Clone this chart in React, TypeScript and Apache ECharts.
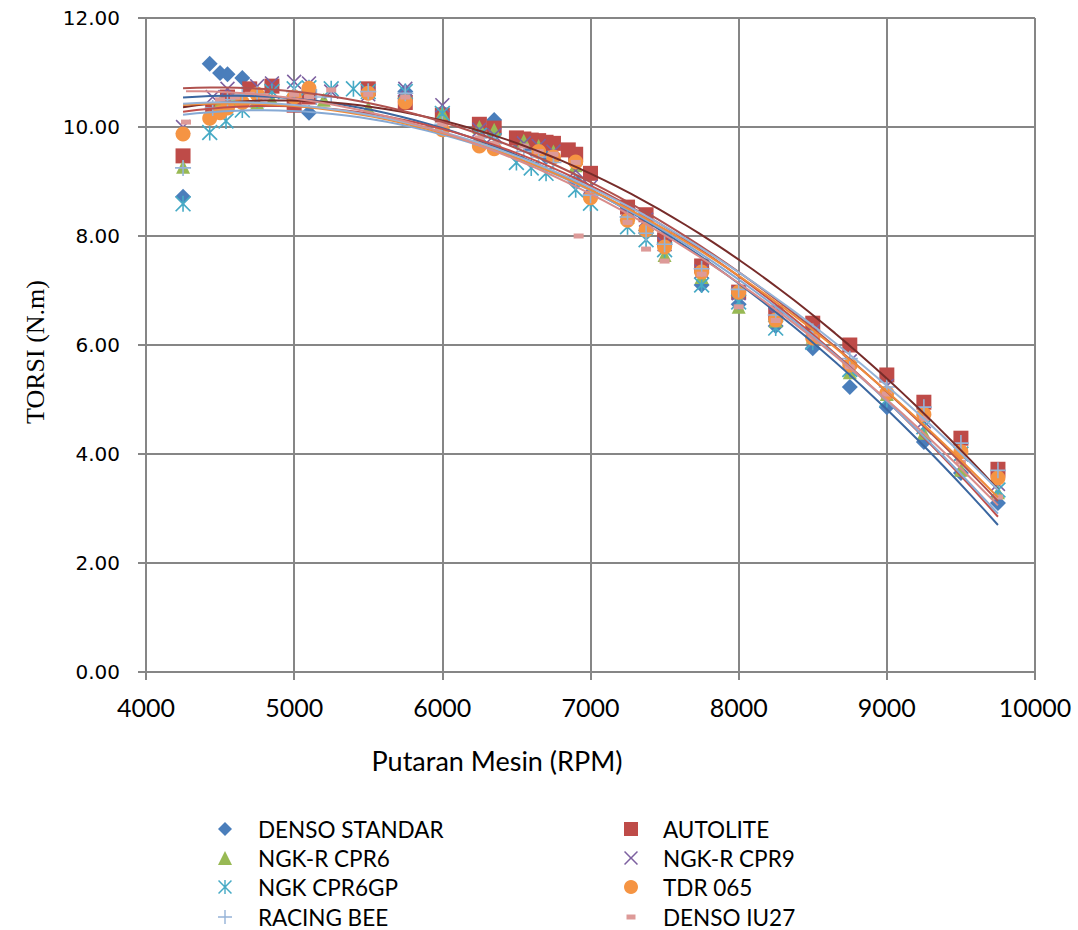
import React, { useEffect, useRef } from "react";
import * as echarts from "echarts";

// ---- data (RPM, torque N.m) ----
const X_TICKS = [4000, 5000, 6000, 7000, 8000, 9000, 10000];
const Y_TICKS = [0, 2, 4, 6, 8, 10, 12];

const NAMES = ["DENSO STANDAR", "AUTOLITE", "NGK-R CPR6", "NGK-R CPR9", "NGK CPR6GP", "TDR 065", "RACING BEE", "DENSO IU27"];

const RPM_DENSO_STD = [4250, 4430, 4500, 4550, 4650, 5100, 5750, 6350, 6500, 6600, 6700, 6900, 7000, 7250, 7375, 7500, 7750, 8000, 8250, 8500, 8750, 9000, 9250, 9500, 9750];
const TQ_DENSO_STD = [8.72, 11.16, 10.99, 10.97, 10.9, 10.26, 10.65, 10.13, 9.75, 9.6, 9.45, 9.0, 8.75, 8.35, 8.1, 7.85, 7.1, 6.75, 6.35, 5.94, 5.23, 4.86, 4.22, 3.65, 3.1];

const RPM_AUTOLITE = [4250, 4450, 4550, 4700, 4850, 5000, 5100, 5500, 5750, 6000, 6250, 6350, 6500, 6550, 6600, 6650, 6700, 6750, 6850, 6900, 7000, 7250, 7375, 7500, 7750, 8000, 8250, 8500, 8750, 9000, 9250, 9500, 9750];
const TQ_AUTOLITE = [9.47, 10.3, 10.55, 10.7, 10.75, 10.4, 10.55, 10.7, 10.45, 10.22, 10.05, 9.98, 9.8, 9.78, 9.76, 9.75, 9.72, 9.7, 9.58, 9.5, 9.15, 8.53, 8.39, 7.93, 7.45, 6.97, 6.59, 6.4, 6.0, 5.45, 4.95, 4.29, 3.72];

const RPM_CPR6 = [4250, 4500, 4600, 4750, 4850, 5000, 5200, 5500, 6000, 6250, 6350, 6550, 6650, 6750, 6900, 7000, 7250, 7375, 7500, 7750, 8000, 8250, 8500, 8750, 9000, 9250, 9500, 9750];
const TQ_CPR6 = [9.27, 10.45, 10.5, 10.45, 10.5, 10.6, 10.5, 10.35, 10.26, 10.0, 9.95, 9.75, 9.65, 9.55, 9.3, 8.8, 8.35, 8.15, 7.65, 7.25, 6.7, 6.45, 6.15, 5.5, 5.1, 4.39, 3.71, 3.3];

const RPM_CPR9 = [4250, 4450, 4550, 4750, 4850, 5000, 5100, 5250, 5500, 5750, 6000, 6250, 6350, 6550, 6650, 6750, 6900, 7000, 7250, 7375, 7500, 7750, 8000, 8250, 8500, 8750, 9000, 9250, 9500, 9750];
const TQ_CPR9 = [10.0, 10.55, 10.7, 10.75, 10.8, 10.83, 10.8, 10.65, 10.6, 10.7, 10.4, 9.95, 9.85, 9.7, 9.65, 9.55, 9.2, 8.9, 8.4, 8.3, 7.85, 7.35, 6.95, 6.55, 6.25, 5.7, 5.25, 4.6, 4.0, 3.45];

const RPM_CPR6GP = [4250, 4430, 4540, 4650, 4750, 4850, 5000, 5100, 5250, 5400, 5500, 5750, 6000, 6250, 6350, 6500, 6600, 6700, 6900, 7000, 7250, 7375, 7500, 7750, 8000, 8250, 8500, 8750, 9000, 9250, 9500, 9750];
const TQ_CPR6GP = [8.59, 9.9, 10.11, 10.31, 10.5, 10.65, 10.7, 10.72, 10.7, 10.7, 10.65, 10.65, 10.25, 9.85, 9.75, 9.35, 9.25, 9.15, 8.85, 8.6, 8.17, 7.93, 7.75, 7.1, 6.79, 6.31, 6.05, 5.55, 5.0, 4.5, 4.0, 3.34];

const RPM_TDR = [4250, 4430, 4500, 4550, 4650, 4750, 5000, 5100, 5500, 5750, 6000, 6250, 6350, 6650, 6750, 6900, 7000, 7250, 7375, 7500, 7750, 8000, 8250, 8500, 8750, 9000, 9250, 9500, 9750];
const TQ_TDR = [9.87, 10.16, 10.26, 10.35, 10.45, 10.6, 10.55, 10.71, 10.62, 10.46, 9.95, 9.65, 9.6, 9.55, 9.45, 9.36, 8.7, 8.29, 8.11, 7.8, 7.34, 6.97, 6.46, 6.13, 5.63, 5.12, 4.73, 4.04, 3.56];

const RPM_RACING = [4250, 4450, 4550, 4650, 4750, 5000, 5150, 5250, 5500, 5750, 6000, 6250, 6350, 6550, 6650, 6750, 6900, 7000, 7250, 7375, 7500, 7750, 8000, 8250, 8500, 8750, 9000, 9250, 9500, 9750];
const TQ_RACING = [9.25, 10.35, 10.5, 10.6, 10.6, 10.65, 10.55, 10.55, 10.65, 10.62, 10.05, 9.8, 9.7, 9.55, 9.45, 9.35, 9.0, 8.75, 8.35, 8.05, 7.85, 7.4, 7.02, 6.55, 6.25, 5.75, 5.23, 4.86, 4.2, 3.7];

const RPM_IU27 = [4270, 4500, 4600, 4700, 4800, 5000, 5100, 5250, 5500, 5750, 6000, 6250, 6350, 6550, 6650, 6750, 6900, 6920, 7250, 7375, 7500, 7750, 8000, 8250, 8500, 8750, 9000, 9250, 9500, 9750];
const TQ_IU27 = [10.09, 10.5, 10.55, 10.6, 10.55, 10.6, 10.55, 10.68, 10.6, 10.55, 10.05, 9.8, 9.7, 9.65, 9.55, 9.5, 9.35, 8.0, 8.25, 7.76, 7.54, 7.3, 6.7, 6.45, 6.15, 5.6, 5.1, 4.65, 3.85, 3.21];

const RPMS = [RPM_DENSO_STD, RPM_AUTOLITE, RPM_CPR6, RPM_CPR9, RPM_CPR6GP, RPM_TDR, RPM_RACING, RPM_IU27];
const TQS = [TQ_DENSO_STD, TQ_AUTOLITE, TQ_CPR6, TQ_CPR9, TQ_CPR6GP, TQ_TDR, TQ_RACING, TQ_IU27];

// ---- styles ----
const PATH_X = "path://M0,1.5L1.5,0L10,8.5L18.5,0L20,1.5L11.5,10L20,18.5L18.5,20L10,11.5L1.5,20L0,18.5L8.5,10Z";
const PATH_AST = "path://M0,1.5L1.5,0L10,8.5L18.5,0L20,1.5L11.5,10L20,18.5L18.5,20L10,11.5L1.5,20L0,18.5L8.5,10Z M9,0L11,0L11,20L9,20Z";
const PATH_PLUS = "path://M9,0L11,0L11,9L20,9L20,11L11,11L11,20L9,20L9,11L0,11L0,9L9,9Z";

const MARKER_COLORS = ["#4A7EBB", "#BE4B48", "#98B954", "#7D60A0", "#46AAC5", "#F59443", "#95B3D7", "#DD9A98"];
const SYMBOLS = ["diamond", "rect", "triangle", PATH_X, PATH_AST, "circle", PATH_PLUS, "rect"];
const SYMBOL_SIZES: any[] = [16, 15, 14, 15, 16, 15, 16, [10, 5]];
const LEGEND_SIZES: any[] = [14, 14, 14, 14, 14, 14, 14, [9, 5]];
const TREND_COLORS = ["#3B67A0", "#772C2A", "#C0504D", "#B0524F", "#86A9D4", "#F08C3A", "#95B3D7", "#D98C8A"];

// legend layout: icon centre x, row centre y
const LEG_ICON_X = [225, 631, 225, 631, 225, 631, 225, 631];
const LEG_ROW_Y = [829, 829, 858, 858, 887, 887, 917, 917];
const LEG_TEXT_X = [258, 663];

function quadFit(xs: number[], ys: number[]) {
  const n = xs.length;
  let s0 = n, s1 = 0, s2 = 0, s3 = 0, s4 = 0, t0 = 0, t1 = 0, t2 = 0;
  for (let i = 0; i < n; i++) {
    const x = xs[i] / 1000, y = ys[i];
    s1 += x; s2 += x * x; s3 += x * x * x; s4 += x * x * x * x;
    t0 += y; t1 += x * y; t2 += x * x * y;
  }
  const A = [[s0, s1, s2, t0], [s1, s2, s3, t1], [s2, s3, s4, t2]];
  for (let c = 0; c < 3; c++) {
    for (let r = c + 1; r < 3; r++) {
      const f = A[r][c] / A[c][c];
      for (let k = c; k < 4; k++) A[r][k] -= f * A[c][k];
    }
  }
  const coef = [0, 0, 0];
  for (let r = 2; r >= 0; r--) {
    let s = A[r][3];
    for (let k = r + 1; k < 3; k++) s -= A[r][k] * coef[k];
    coef[r] = s / A[r][r];
  }
  return (x: number) => { const u = x / 1000; return coef[0] + coef[1] * u + coef[2] * u * u; };
}

export default function App() {
  const ref = useRef<HTMLDivElement>(null);
  useEffect(() => {
    if (!ref.current) return;
    const chart = echarts.init(ref.current, null, { renderer: "svg" });

    const scatter = NAMES.map((name, i) => ({
      name,
      type: "scatter",
      symbol: SYMBOLS[i],
      symbolSize: SYMBOL_SIZES[i],
      itemStyle: { color: MARKER_COLORS[i], opacity: 1 },
      data: RPMS[i].map((x, j) => [x, TQS[i][j]]),
      z: 2,
    }));

    const trends = NAMES.map((name, i) => {
      const f = quadFit(RPMS[i], TQS[i]);
      const xs = RPMS[i];
      const x0 = Math.min(...xs), x1 = Math.max(...xs);
      const pts: number[][] = [];
      const steps = 60;
      for (let k = 0; k <= steps; k++) {
        const x = x0 + ((x1 - x0) * k) / steps;
        pts.push([x, f(x)]);
      }
      return {
        name: name + " trend",
        type: "line",
        data: pts,
        showSymbol: false,
        symbol: "none",
        lineStyle: { color: TREND_COLORS[i], width: 2 },
        itemStyle: { color: TREND_COLORS[i] },
        z: 3,
        silent: true,
      };
    });

    const legends = NAMES.map((name, i) => {
      const sz = LEGEND_SIZES[i];
      const iw = Array.isArray(sz) ? sz[0] : sz;
      const ih = Array.isArray(sz) ? sz[1] : sz;
      const lh = 26;
      const left = LEG_ICON_X[i] - iw / 2;
      const textX = LEG_TEXT_X[i % 2];
      const pad = textX - left - iw - 5;
      return {
        data: [name],
        left,
        top: LEG_ROW_Y[i] - lh / 2,
        orient: "vertical",
        padding: 0,
        itemWidth: iw,
        itemHeight: ih,
        selectedMode: false,
        textStyle: {
          fontFamily: "Lato",
          fontSize: 22.5,
          color: "#000",
          lineHeight: lh,
          padding: [0, 0, 0, pad],
        },
      };
    });

    chart.setOption({
      animation: false,
      backgroundColor: "#fff",
      grid: { left: 146, right: 43, top: 18, bottom: 258, containLabel: false },
      xAxis: {
        type: "value",
        min: X_TICKS[0],
        max: X_TICKS[X_TICKS.length - 1],
        interval: 1000,
        axisLine: { show: true, onZero: false, lineStyle: { color: "#868686", width: 2 } },
        axisTick: { show: true, inside: false, length: 8, lineStyle: { color: "#868686", width: 2 } },
        axisLabel: { fontFamily: "Lato", fontSize: 25, color: "#000", margin: 22, formatter: (v: number) => String(v) },
        splitLine: { show: true, lineStyle: { color: "#868686", width: 2 } },
      },
      yAxis: {
        type: "value",
        min: Y_TICKS[0],
        max: Y_TICKS[Y_TICKS.length - 1],
        interval: 2,
        axisLine: { show: true, onZero: false, lineStyle: { color: "#868686", width: 2 } },
        axisTick: { show: true, inside: false, length: 8, lineStyle: { color: "#868686", width: 2 } },
        axisLabel: {
          fontFamily: "DejaVu Sans",
          fontSize: 20,
          color: "#000",
          margin: 26,
          formatter: (v: number) => v.toFixed(2),
        },
        splitLine: { show: true, lineStyle: { color: "#868686", width: 2 } },
      },
      legend: legends,
      graphic: [
        {
          type: "text",
          x: 35,
          y: 352,
          rotation: Math.PI / 2,
          style: {
            text: "TORSI (N.m)",
            font: "26px 'Liberation Serif'",
            fill: "#000",
            textAlign: "center",
            textVerticalAlign: "middle",
          },
        },
        {
          type: "text",
          x: 497,
          y: 760,
          style: {
            text: "Putaran Mesin (RPM)",
            font: "27px Lato",
            fill: "#000",
            textAlign: "center",
            textVerticalAlign: "middle",
          },
        },
      ],
      series: [...scatter, ...trends],
    });

    return () => chart.dispose();
  }, []);

  return <div ref={ref} style={{ width: 1078, height: 930, position: "absolute", left: 0, top: 0 }} />;
}
